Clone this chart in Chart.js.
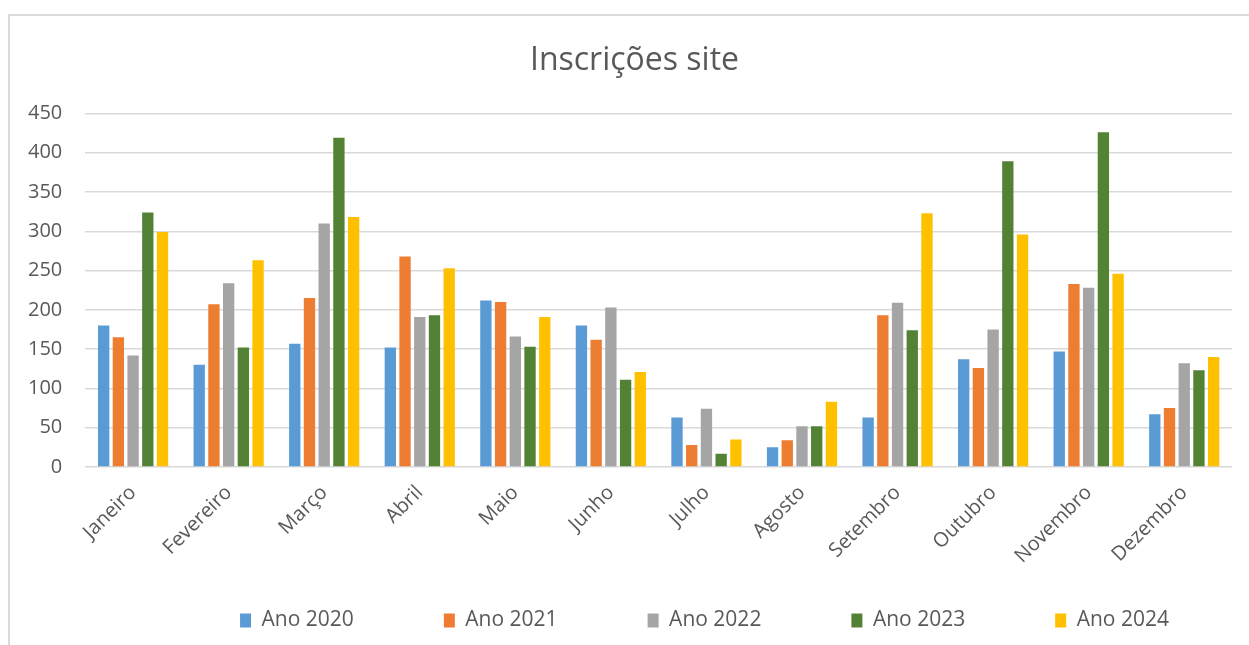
<!DOCTYPE html>
<html lang="pt">
<head>
<meta charset="utf-8">
<title>Inscrições site</title>
<script src="https://cdn.jsdelivr.net/npm/chart.js@4.4.1/dist/chart.umd.min.js"></script>
<style>
    html, body { margin: 0; padding: 0; background: #fff; }
    #wrap { position: relative; width: 1249px; height: 645px; overflow: hidden; }
    #frame {
        position: absolute; left: 8px; top: 14px; width: 1300px; height: 700px;
        border-left: 2px solid #dadada; border-top: 2px solid #dadada;
    }
    #inscricoes { position: absolute; left: 0; top: 0; }
</style>
</head>
<body>
<div id="wrap">
    <div id="frame"></div>
    <canvas id="inscricoes" width="1249" height="645"></canvas>
</div>
<script>
// Data
const meses = ['Janeiro', 'Fevereiro', 'Março', 'Abril', 'Maio', 'Junho',
               'Julho', 'Agosto', 'Setembro', 'Outubro', 'Novembro', 'Dezembro'];
const ano2020 = [180, 130, 157, 152, 212, 180, 63, 25, 63, 137, 147, 67];
const ano2021 = [165, 207, 215, 268, 210, 162, 28, 34, 193, 126, 233, 75];
const ano2022 = [142, 234, 310, 191, 166, 203, 74, 52, 209, 175, 228, 132];
const ano2023 = [324, 152, 419, 193, 153, 111, 17, 52, 174, 389, 426, 123];
const ano2024 = [299, 263, 318, 253, 191, 121, 35, 83, 323, 296, 246, 140];
const yTicks = [0, 50, 100, 150, 200, 250, 300, 350, 400, 450];

const textColor = '#595959';
const gridColor = '#d9d9d9';
const fontFamily = '"Open Sans", "Noto Sans", sans-serif';

function serie(label, data, color) {
    return {
        label: label,
        data: data,
        backgroundColor: color,
        borderWidth: 0,
        categoryPercentage: 0.77,
        barPercentage: 0.77
    };
}

// Excel puts title and legend a bit right of centre, and the legend lower
// than the label block; the legend box is kept short in the layout and
// stretched upwards here
const blockShift = {
    id: 'blockShift',
    afterLayout(chart) {
        const t = chart.titleBlock;
        t.left += 16;
        t.right += 16;
        const lg = chart.legend;
        lg.left += 86;
        lg.right += 86;
        lg.top -= 81;
    }
};

new Chart(document.getElementById('inscricoes'), {
    type: 'bar',
    data: {
        labels: meses,
        datasets: [
            serie('Ano 2020', ano2020, '#5b9bd5'),
            serie('Ano 2021', ano2021, '#ed7d31'),
            serie('Ano 2022', ano2022, '#a5a5a5'),
            serie('Ano 2023', ano2023, '#548235'),
            serie('Ano 2024', ano2024, '#ffc000')
        ]
    },
    options: {
        responsive: false,
        animation: false,
        layout: {
            padding: { top: 14, left: 5, right: 17, bottom: 4 }
        },
        plugins: {
            title: {
                display: true,
                text: 'Inscrições site',
                color: textColor,
                font: { family: fontFamily, size: 32, weight: 'normal' },
                padding: { top: 28, bottom: 33 }
            },
            legend: {
                position: 'bottom',
                maxHeight: 40,
                labels: {
                    color: textColor,
                    font: { family: fontFamily, size: 21 },
                    boxWidth: 11,
                    boxHeight: 14,
                    padding: 90
                }
            },
            tooltip: { enabled: false }
        },
        scales: {
            x: {
                grid: { display: false },
                border: { display: false },
                ticks: {
                    color: textColor,
                    font: { family: fontFamily, size: 20 },
                    minRotation: 45,
                    maxRotation: 45,
                    padding: 6
                },
                afterFit: (axis) => {
                    axis.height = 134;
                    axis.paddingLeft = 0;
                    axis.paddingRight = 0;
                }
            },
            y: {
                min: 0,
                max: 450,
                grid: { color: gridColor, lineWidth: 1.5, drawTicks: false },
                border: { display: false },
                afterBuildTicks: (axis) => {
                    axis.ticks = yTicks.map(v => ({ value: v }));
                },
                ticks: {
                    color: textColor,
                    font: { family: fontFamily, size: 20 },
                    padding: 23
                }
            }
        }
    },
    plugins: [blockShift]
});
</script>
</body>
</html>
